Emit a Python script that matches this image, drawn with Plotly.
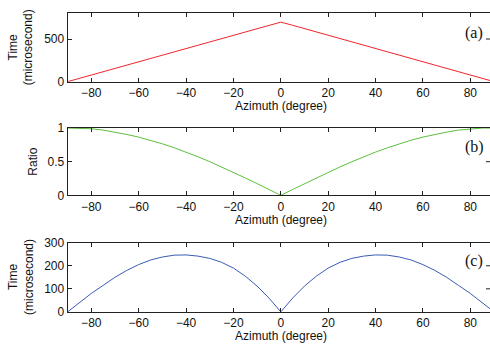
import plotly.graph_objects as go

# ---- data ----
azimuth = [-90, -85, -80, -75, -70, -65, -60, -55, -50, -45, -40, -35, -30, -25, -20, -15, -10, -5, 0,
           5, 10, 15, 20, 25, 30, 35, 40, 45, 50, 55, 60, 65, 70, 75, 80, 85, 90]
time_a = [0, 39, 78, 117, 156, 194, 233, 272, 311, 350, 389, 428, 467, 506, 544, 583, 622, 661, 698,
          661, 622, 583, 544, 506, 467, 428, 389, 350, 311, 272, 233, 194, 156, 117, 78, 39, 0]
ratio_b = [1.0, 1.0, 0.99, 0.97, 0.94, 0.905, 0.866, 0.82, 0.766, 0.707, 0.643, 0.574, 0.5, 0.423, 0.342, 0.259, 0.174, 0.087, 0.0,
           0.087, 0.174, 0.259, 0.342, 0.423, 0.5, 0.574, 0.643, 0.707, 0.766, 0.82, 0.866, 0.905, 0.94, 0.97, 0.99, 1.0, 1.0]
time_c = [0, 40, 80, 115, 150, 180, 205, 225, 238, 246, 247, 242, 232, 215, 190, 155, 112, 60, 0,
          60, 112, 155, 190, 215, 232, 242, 247, 246, 238, 225, 205, 180, 150, 115, 80, 40, 0]

x_ticks = [-80, -60, -40, -20, 0, 20, 40, 60, 80]
ya_ticks = [0, 500]
yb_ticks = [0, 0.5, 1]
yc_ticks = [0, 100, 200, 300]

W, H = 490, 358
FONT = "Liberation Sans, Arial, sans-serif"
AX = "#222222"

def py(v):
    return (H - v) / H

dom_x = [67.6 / W, 1.0]
dom_a = [py(77.7), py(6.7)]
dom_b = [py(196.0), py(126.0)]
dom_c = [py(317.3), py(245.3)]

fig = go.Figure()
fig.add_trace(go.Scatter(x=azimuth, y=time_a, mode="lines", line=dict(color="#f0262c", width=1), xaxis="x", yaxis="y"))
fig.add_trace(go.Scatter(x=azimuth, y=ratio_b, mode="lines", line=dict(color="#5cbf3c", width=1), xaxis="x2", yaxis="y2"))
fig.add_trace(go.Scatter(x=azimuth, y=time_c, mode="lines", line=dict(color="#3a5cb4", width=1), xaxis="x3", yaxis="y3"))

xrange = [-90, 88.3]

def xax(anchor):
    return dict(domain=dom_x, range=xrange, anchor=anchor, tickvals=x_ticks, ticks="inside", ticklen=4,
                tickcolor=AX, showline=True, linecolor=AX, linewidth=1, mirror="ticks", showgrid=False,
                zeroline=False, tickfont=dict(family=FONT, size=12, color="#111"))

def yax(anchor, dom, rng, tv):
    return dict(domain=dom, range=rng, anchor=anchor, tickvals=tv, ticks="inside", ticklen=4,
                tickcolor=AX, showline=True, linecolor=AX, linewidth=1, showgrid=False,
                zeroline=False, tickfont=dict(family=FONT, size=12, color="#111"))

fig.update_layout(
    width=W, height=H, margin=dict(l=0, r=0, t=0, b=0),
    paper_bgcolor="white", plot_bgcolor="white", showlegend=False,
    xaxis=xax("y"), yaxis=yax("x", dom_a, [0, 800], ya_ticks),
    xaxis2=xax("y2"), yaxis2=yax("x2", dom_b, [0, 1], yb_ticks),
    xaxis3=xax("y3"), yaxis3=yax("x3", dom_c, [0, 300], yc_ticks),
)

ann = []
tf = dict(family=FONT, size=12, color="#111")
for yc in [103, 222, 342]:
    ann.append(dict(text="Azimuth (degree)", x=281 / W, y=py(yc), xref="paper", yref="paper",
                    showarrow=False, font=tf, xanchor="center", yanchor="middle"))
ann.append(dict(text="Time<br>(microsecond)", x=21 / W, y=py(42), xref="paper", yref="paper",
                showarrow=False, font=tf, textangle=-90, xanchor="center", yanchor="middle"))
ann.append(dict(text="Ratio", x=33 / W, y=py(161), xref="paper", yref="paper",
                showarrow=False, font=tf, textangle=-90, xanchor="center", yanchor="middle"))
ann.append(dict(text="Time<br>(microsecond)", x=21 / W, y=py(281), xref="paper", yref="paper",
                showarrow=False, font=tf, textangle=-90, xanchor="center", yanchor="middle"))
sf = dict(family="Liberation Serif, Times New Roman, serif", size=16, color="#111")
for lab, yc in [("(a)", 27.5), ("(b)", 146), ("(c)", 264.5)]:
    ann.append(dict(text=lab, x=474 / W, y=py(yc), xref="paper", yref="paper",
                    showarrow=False, font=sf, xanchor="center", yanchor="middle"))
fig.update_layout(annotations=ann)

# right-hand mirror tick marks near the clipped right border
shapes = []
for yref, vals in [("y", [500]), ("y2", [0.5]), ("y3", [100, 200])]:
    for v in vals:
        shapes.append(dict(type="line", xref="paper", yref=yref, x0=486 / W, x1=1.0, y0=v, y1=v,
                           line=dict(color=AX, width=1)))
fig.update_layout(shapes=shapes)

fig.write_html("out.html", config={"displayModeBar": False},
               post_script="document.body.style.margin='0';document.body.style.overflow='hidden';")
